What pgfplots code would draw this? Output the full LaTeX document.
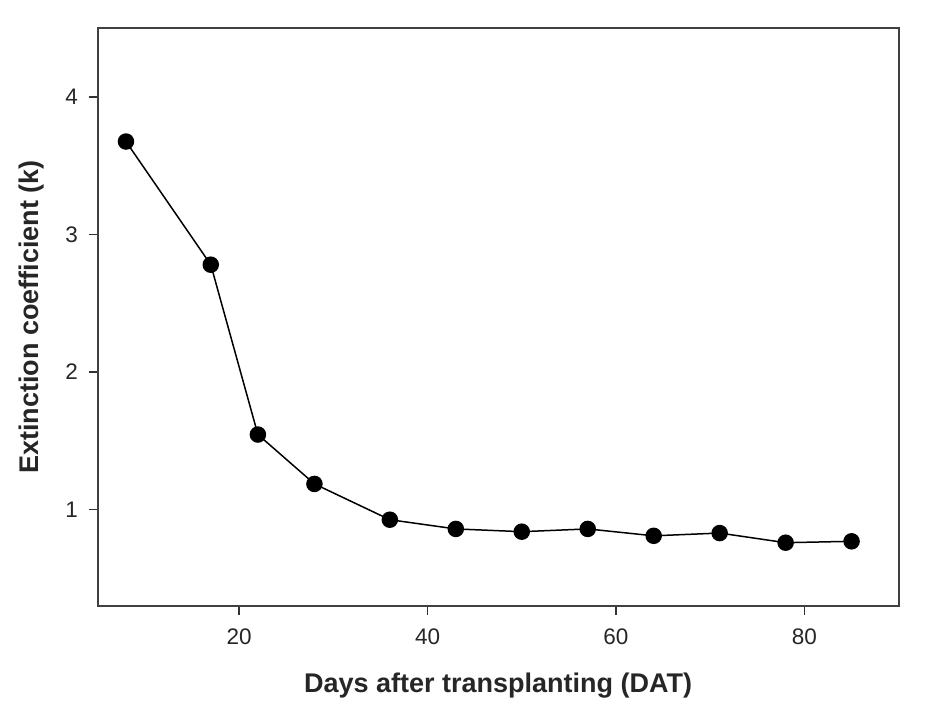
\documentclass[border=0pt]{standalone}
\usepackage{pgfplots}
\pgfplotsset{compat=1.18}
\usepackage{fontspec}
\setmainfont{Liberation Sans}
\begin{document}
\begin{tikzpicture}
\path[use as bounding box] (0,0) rectangle (934pt,723pt);
\begin{axis}[
  at={(97.7pt,117pt)}, anchor=south west,
  scale only axis, width=801pt, height=578pt,
  xmin=5, xmax=90, ymin=0.3, ymax=4.5,
  xtick={20,40,60,80}, ytick={1,2,3,4},
  axis line style={line width=2pt, black!75},
  tick style={line width=1.5pt, black!80},
  tick align=outside, major tick length=9pt,
  xtick pos=bottom, ytick pos=left,
  /pgf/number format/assume math mode=true,
  ticklabel style={font=\fontsize{22.5}{26}\selectfont, text=black!85},
  xticklabel style={anchor=center, yshift=-22pt},
  yticklabel style={anchor=center, xshift=-17pt},
  xlabel={\textbf{Days after transplanting (DAT)}},
  ylabel={\textbf{Extinction coefficient (k)}},
  label style={font=\fontsize{27}{31}\selectfont, text=black!85},
  xlabel style={at={(axis description cs:0.5,0)}, anchor=center, yshift=-80pt},
  ylabel style={at={(axis description cs:0,0.5)}, anchor=center, yshift=66pt},
]
\addplot[black, line width=1.5pt, mark=*, mark size=7.5pt, mark options={solid, fill=black}]
coordinates {
(8,3.675) (17,2.78) (22,1.546) (28,1.187) (36,0.927) (43,0.86) (50,0.84)
(57,0.86) (64,0.81) (71,0.83) (78,0.76) (85,0.77)
};
\end{axis}
\end{tikzpicture}
\end{document}
